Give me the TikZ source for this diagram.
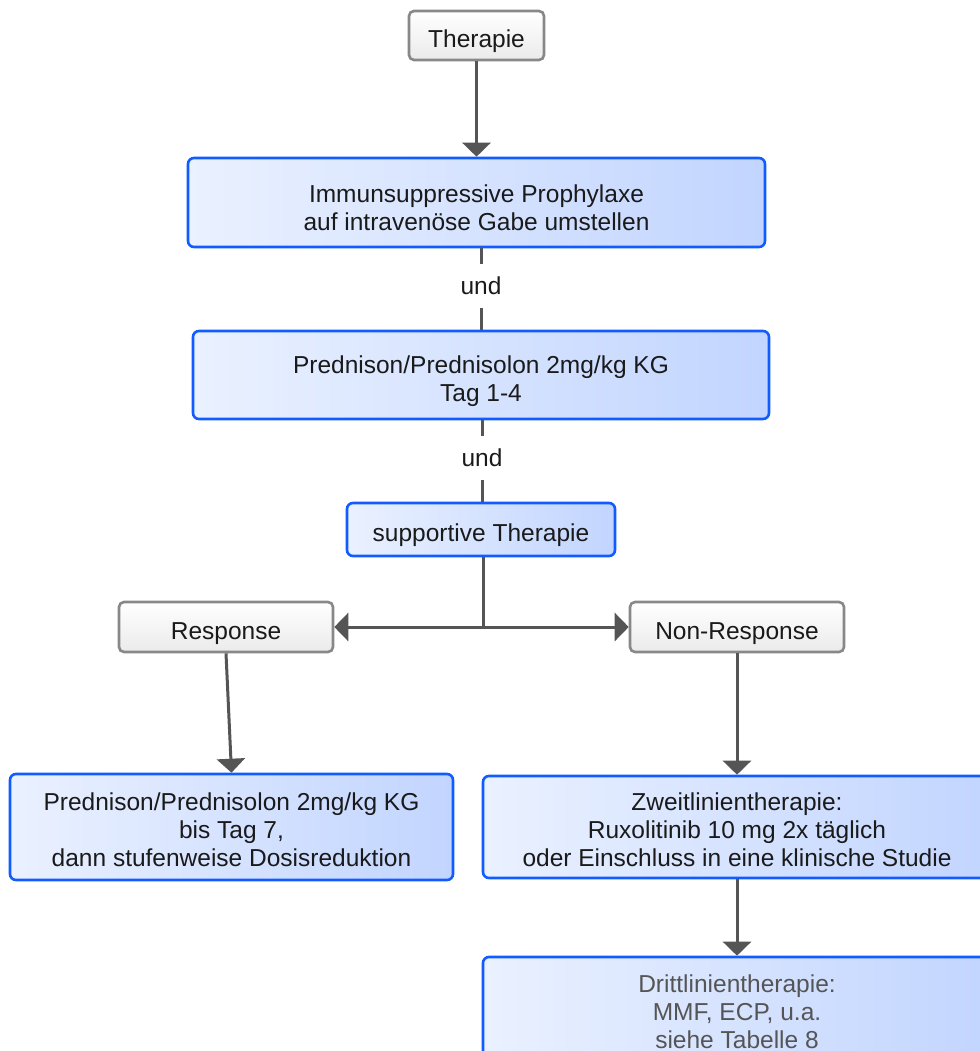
\documentclass[tikz,border=0pt]{standalone}
\usepackage{fontspec}
\setmainfont{Liberation Sans}
\usetikzlibrary{arrows.meta,positioning}

\definecolor{boxblue}{RGB}{18,92,255}
\definecolor{fillblueA}{RGB}{234,241,255}
\definecolor{fillblueB}{RGB}{194,213,255}
\definecolor{boxgrey}{RGB}{136,136,136}
\definecolor{linegrey}{RGB}{85,85,85}
\definecolor{textdark}{RGB}{26,26,26}

\begin{document}
\begin{tikzpicture}[
    x=1pt, y=-1pt,
    every node/.style={font=\fontsize{24.5}{28}\selectfont, text=textdark, align=center},
    box/.style={draw=boxblue, line width=2.6pt, rounded corners=6pt, inner ysep=2pt, left color=fillblueA, right color=fillblueB, execute at begin node={\rule{0pt}{#1}}},
    box/.default=27pt,
    grey/.style={draw=boxgrey, line width=2.6pt, rounded corners=5pt, inner ysep=2pt, top color=white, bottom color=black!8, execute at begin node={\rule{0pt}{30pt}}},
    line/.style={line width=3pt, linegrey},
    arrow/.style={line, -{Triangle[width=28pt, length=14pt]}}
]
\useasboundingbox (0,0) rectangle (979,1051);

\node[grey, minimum width=135pt, minimum height=49pt] (therapie) at (476.5,35.5) {Therapie};
\node[box=56pt, minimum width=577pt, minimum height=89pt] (prophylaxe) at (476.5,202.5) {Immunsuppressive Prophylaxe\\auf intravenöse Gabe umstellen};
\node[inner xsep=4pt, inner ysep=13pt] (und1) at (481,286) {und};
\node[box=59pt, minimum width=576pt, minimum height=88pt] (prednison) at (481,375) {Prednison/Prednisolon 2mg/kg KG\\Tag 1-4};
\node[inner xsep=4pt, inner ysep=13pt] (und2) at (482,458) {und};
\node[box=30pt, minimum width=268pt, minimum height=53pt] (supportiv) at (481,529.5) {supportive Therapie};
\coordinate (split) at (483,627);
\node[grey, minimum width=214pt, minimum height=50pt] (response) at (226,627) {Response};
\node[grey, minimum width=214pt, minimum height=50pt] (nonresponse) at (737,627) {Non-Response};
\node[box=80pt, minimum width=443pt, minimum height=106pt] (dosis) at (231.5,827) {Prednison/Prednisolon 2mg/kg KG\\bis Tag 7,\\dann stufenweise Dosisreduktion};
\node[box=80pt, minimum width=508pt, minimum height=102pt] (zweit) at (737,827) {Zweitlinientherapie:\\Ruxolitinib 10 mg 2x täglich\\oder Einschluss in eine klinische Studie};
\node[box=0pt, minimum width=508pt, minimum height=110pt, text=linegrey] (dritt) at (737,1012) {Drittlinientherapie:\\MMF, ECP, u.a.\\siehe Tabelle 8};

\draw[arrow] (therapie) -- (prophylaxe);
\draw[line] (und1.north |- prophylaxe.south) -- (und1.north);
\draw[line] (und1.south) -- (und1.south |- prednison.north);
\draw[line] (und2.north |- prednison.south) -- (und2.north);
\draw[line] (und2.south) -- (und2.south |- supportiv.north);
\draw[line] (split |- supportiv.south) -- (split);
\draw[arrow] (split) -- (response.east);
\draw[arrow] (split) -- (nonresponse.west);
\draw[arrow] (response.south) -- (dosis.north);
\draw[arrow] (nonresponse.south) -- (zweit.north);
\draw[arrow] (zweit) -- (dritt);
\end{tikzpicture}
\end{document}
